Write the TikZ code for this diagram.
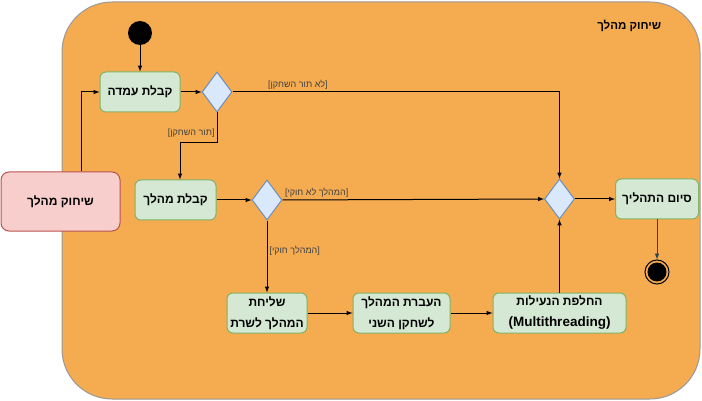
\documentclass[tikz,border=0pt]{standalone}
\usepackage{fontspec}
\setmainfont{Liberation Sans}
\newfontfamily\hebfont[Script=Hebrew]{Liberation Sans}
\TeXXeTstate=1
\usetikzlibrary{positioning}
\usetikzlibrary{shapes}
\usetikzlibrary{arrows}
\definecolor{katom}{HTML}{F5AB50}
\definecolor{yarokmil}{HTML}{D5E8D4}
\definecolor{yarokkav}{HTML}{82B366}
\definecolor{kchol}{HTML}{DAE8FC}
\definecolor{kcholkav}{HTML}{6C8EBF}
\definecolor{varod}{HTML}{F8CECC}
\definecolor{varodkav}{HTML}{B85450}
\definecolor{afor}{HTML}{999999}
\definecolor{kehe}{HTML}{23445D}
\begin{document}
\begin{tikzpicture}[x=1pt,y=-1pt,align=center,line width=1pt,
peula/.style={draw=yarokkav,fill=yarokmil,rounded corners=6pt,minimum height=40pt,inner sep=2pt,font=\hebfont\bfseries\fontsize{12}{21}\selectfont},
tnai/.style={draw=kcholkav,fill=kchol,diamond,minimum width=30pt,minimum height=40pt,inner sep=0pt},
tavit/.style={font=\fontsize{9}{10}\selectfont,text=black!75,inner sep=2pt},
hatchala/.style={circle,fill=black,minimum size=24pt,inner sep=0pt},
siyum/.style={circle,draw=black,minimum size=24pt,inner sep=0pt}
]
\useasboundingbox (0,0) rectangle (702,401);
\node[draw=afor,fill=katom,rounded corners=50pt,minimum width=638pt,minimum height=397pt](mis) at (381,200.5){};
\node[font=\hebfont\bfseries\fontsize{11.5}{13}\selectfont,anchor=east](kot) at (665,26){\beginR שיחוק מהלך\endR};
%--
\node[hatchala](st) at (140,33){};
\node[peula,minimum width=80pt,below=26pt of st](ke){\beginR קבלת עמדה\endR};
\draw [-latex] (st) -- (ke);
\node[tnai,right=21pt of ke](d1){};
\draw [-latex] (ke) -- (d1);
%--
\node[peula,minimum width=81pt](km) at (175.5,200){\beginR קבלת מהלך\endR};
\draw [-latex] (d1.south) -- node[tavit,left,pos=0.7]{[{\hebfont\beginR תור השחקן\endR}]} ++(0,30) -| ([xshift=4.5pt]km.north);
\node[tnai,right=35pt of km](d2){};
\draw [-latex] (km) -- (d2);
%--
\node[peula,minimum width=80pt,below=72pt of d2](sh){\beginR שליחת\endR\\\beginR המהלך לשרת\endR};
\draw [-latex] (d2) -- node[tavit,right,pos=0.42]{[{\hebfont\beginR המהלך חוקי\endR}]} (sh);
\node[peula,minimum width=97pt,right=45pt of sh](ha){\beginR העברת המהלך\endR\\\beginR לשחקן השני\endR};
\draw [-latex] (sh) -- (ha);
\node[peula,minimum width=133pt,right=42pt of ha](hn){\beginR החלפת הנעילות\endR\\{\rmfamily\fontsize{13.5}{21}\selectfont(Multithreading)}};
\draw [-latex] (ha) -- (hn);
%--
\node[tnai,above=73pt of hn](d3){};
\draw [-latex] (hn) -- (d3);
\draw [-latex] (d2.east) -- node[tavit,above right,pos=0]{[{\hebfont\beginR המהלך לא חוקי\endR}]} (d3.west);
\draw [-latex] (d1.east) -| node[tavit,above,pos=0.1]{[{\hebfont\beginR לא תור השחקן\endR}]} (d3.north);
%--
\node[peula,minimum width=83pt,right=40pt of d3](si){\beginR סיום התהליך\endR};
\draw [-latex] (d3) -- (si);
\node[siyum,below=40pt of si](en){};
\fill (en.center) circle (9.5pt);
\draw [-latex,kehe] (si) -- (en);
%--
\node[peula,draw=varodkav,fill=varod,rounded corners=8pt,minimum width=119pt,minimum height=59pt](sm) at (60.5,201.5){\beginR שיחוק מהלך\endR};
\draw [-latex] ([xshift=20.5pt]sm.north) |- (ke.west);
\end{tikzpicture}
\end{document}
